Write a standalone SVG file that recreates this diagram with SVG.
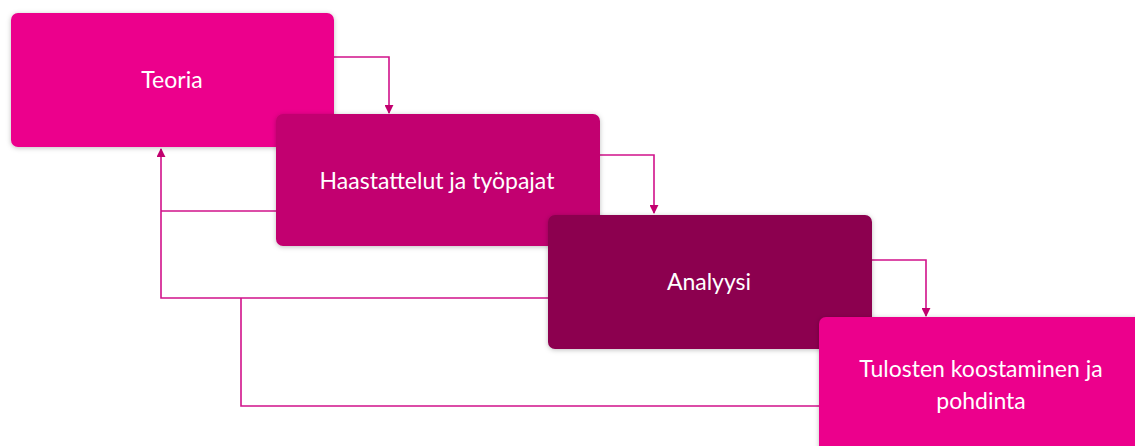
<svg xmlns="http://www.w3.org/2000/svg" width="1135" height="446" viewBox="0 0 1135 446">
<style>
.box{filter:url(#sh)}
.t{font-family:Lato,"Open Sans",sans-serif;font-size:23px;fill:#ffffff;text-anchor:middle}
.c{fill:none;stroke:#D1128A;stroke-width:1.6}
</style>
<defs>
<filter id="sh" x="-10%" y="-10%" width="120%" height="130%">
<feDropShadow dx="0" dy="1" stdDeviation="2.5" flood-color="#000" flood-opacity="0.25"/>
</filter>
<marker id="ah" viewBox="0 0 10 10" refX="9" refY="5" markerWidth="9" markerHeight="9" markerUnits="userSpaceOnUse" orient="auto">
<path d="M0,0 L10,5 L0,10 Z" fill="#C2006F"/>
</marker>
</defs>
<rect width="1135" height="446" fill="#ffffff"/>
<g id="connectors">
<path class="c" d="M334,57 H389 V113" marker-end="url(#ah)"/>
<path class="c" d="M600,155 H654 V213" marker-end="url(#ah)"/>
<path class="c" d="M872,260 H926 V316" marker-end="url(#ah)"/>
<path class="c" d="M276,211 H161" />
<path class="c" d="M548,298 H161 V149" marker-end="url(#ah)"/>
<path class="c" d="M819,406 H241 V298"/>
</g>
<g id="n1"><rect class="box" x="11" y="13" width="323" height="134" rx="7" fill="#EC008C"/><text class="t" x="172" y="88">Teoria</text></g>
<g id="n2"><rect class="box" x="276" y="114" width="324" height="132" rx="7" fill="#C2006F"/><text class="t" x="437" y="189">Haastattelut ja työpajat</text></g>
<g id="n3"><rect class="box" x="548" y="215" width="324" height="134" rx="7" fill="#8C0050"/><text class="t" x="709" y="290">Analyysi</text></g>
<g id="n4"><rect class="box" x="819" y="317" width="330" height="140" rx="7" fill="#EC008C"/><text class="t" x="981" y="377">Tulosten koostaminen ja</text><text class="t" x="981" y="409">pohdinta</text></g>
</svg>
